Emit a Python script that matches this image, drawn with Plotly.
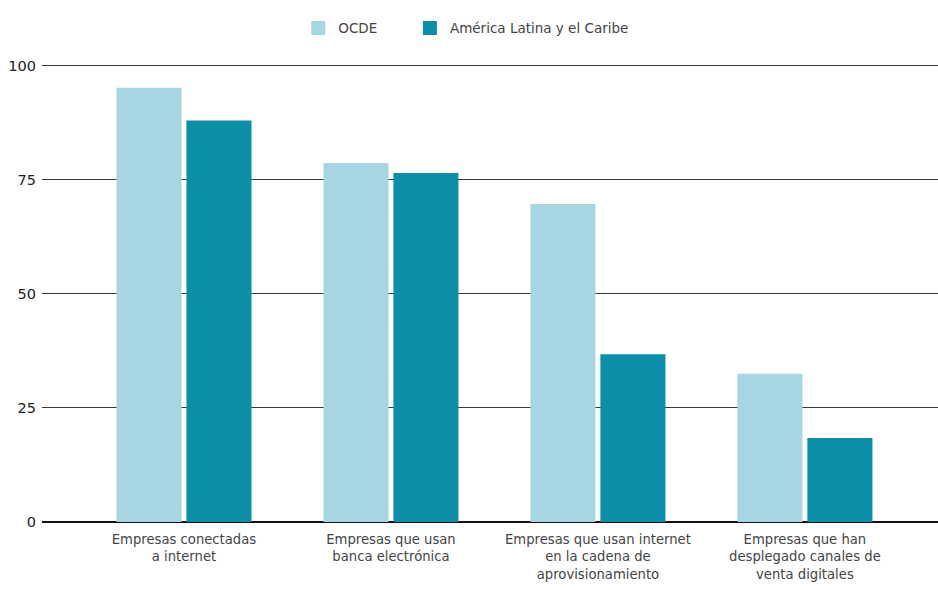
import plotly.graph_objects as go

categories = [
    "Empresas conectadas<br>a internet",
    "Empresas que usan<br>banca electrónica",
    "Empresas que usan internet<br>en la cadena de<br>aprovisionamiento",
    "Empresas que han<br>desplegado canales de<br>venta digitales",
]
series_names = ["OCDE", "América Latina y el Caribe"]
ocde = [95.2, 78.7, 69.7, 32.5]
alc = [88.0, 76.5, 36.8, 18.4]
y_ticks = [0, 25, 50, 75, 100]
colors = ["#a6d6e1", "#0b8fa8"]

FONT = "'DejaVu Sans', sans-serif"
xs = list(range(len(categories)))

fig = go.Figure()
for name, vals, col in zip(series_names, [ocde, alc], colors):
    fig.add_trace(go.Bar(x=xs, y=vals, name=name, showlegend=False,
                         marker=dict(color=col, line=dict(width=0))))
# legend entries with larger square swatches, one legend box each
for name, col, lg in zip(series_names, colors, ["legend", "legend2"]):
    fig.add_trace(go.Scatter(x=[None], y=[None], mode="markers", name=name, legend=lg,
                             marker=dict(symbol="square", size=14, color=col)))

legend_common = dict(orientation="h", xref="container", yref="container",
                     xanchor="left", y=0.952, yanchor="middle",
                     font=dict(size=13.5, color="#444444"), itemwidth=30,
                     bgcolor="rgba(0,0,0,0)")

fig.update_layout(
    width=938, height=590,
    margin=dict(l=42, r=0, t=64, b=68),
    paper_bgcolor="white", plot_bgcolor="white",
    barmode="group", bargap=0.324, bargroupgap=0.07,
    font=dict(family=FONT, color="#444444", size=12),
    legend=dict(x=0.318, **legend_common),
    legend2=dict(x=0.437, **legend_common),
    xaxis=dict(
        tickmode="array", tickvals=xs, ticktext=categories,
        range=[-0.686, 3.643], showgrid=False, zeroline=False, showline=False,
        ticks="", ticklabelstandoff=8, tickfont=dict(size=13.2, color="#444444"),
    ),
    yaxis=dict(
        range=[0, 100.4], tickvals=y_ticks, ticktext=[str(v) for v in y_ticks],
        showgrid=True, gridcolor="#3a3a3a", gridwidth=1.3,
        zeroline=True, zerolinecolor="#111111", zerolinewidth=2.4,
        showline=False, ticks="", ticklabelstandoff=5,
        tickfont=dict(size=14.5, color="#222222"),
    ),
)

fig.write_html("out.html")
